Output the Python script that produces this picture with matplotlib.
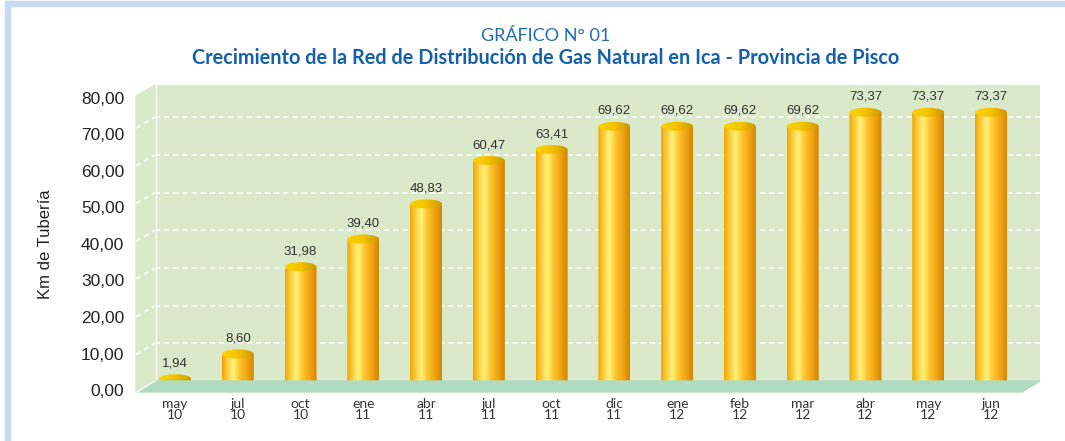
import numpy as np
import matplotlib
matplotlib.use("Agg")
import matplotlib.pyplot as plt
from matplotlib.patches import Ellipse, Rectangle, Polygon
from matplotlib.colors import LinearSegmentedColormap

# ---------------- data ----------------
months = ["may", "jul", "oct", "ene", "abr", "jul", "oct", "dic", "ene", "feb", "mar", "abr", "may", "jun"]
years = ["10", "10", "10", "11", "11", "11", "11", "11", "12", "12", "12", "12", "12", "12"]
values = [1.94, 8.60, 31.98, 39.40, 48.83, 60.47, 63.41, 69.62, 69.62, 69.62, 69.62, 73.37, 73.37, 73.37]
ytick_vals = [0, 10, 20, 30, 40, 50, 60, 70, 80]
ytick_labels = ["0,00", "10,00", "20,00", "30,00", "40,00", "50,00", "60,00", "70,00", "80,00"]
title1 = "GRÁFICO N° 01"
title2 = "Crecimiento de la Red de Distribución de Gas Natural en Ica - Provincia de Pisco"
ylabel = "Km de Tubería"

W, H = 1065, 441
fig = plt.figure(figsize=(W / 100, H / 100), dpi=100)
fig.patch.set_facecolor("white")


def fx(px):
    return px / W


def fy(py):
    return 1 - py / H


def add_axes_px(x0, y0, x1, y1, **kw):
    return fig.add_axes([fx(x0), fy(y1), fx(x1) - fx(x0), fy(y0) - fy(y1)], **kw)


# frame border (light blue)
border = "#c6dbf1"
fig.patches.append(Rectangle((fx(5), fy(6)), 1 - fx(5), fy(1) - fy(6), transform=fig.transFigure,
                             color=border, zorder=0))
fig.patches.append(Rectangle((fx(5), 0), fx(10) - fx(5), fy(1), transform=fig.transFigure,
                             color=border, zorder=0))

wall = "#d9e9c9"
floor = "#afdcc1"

# side wall
fig.patches.append(Polygon([(fx(136), fy(96)), (fx(155), fy(85)), (fx(155), fy(381)), (fx(136), fy(392))],
                           closed=True, transform=fig.transFigure, color=wall, zorder=0))
# floor
fig.patches.append(Polygon([(fx(137), fy(392)), (fx(155), fy(381)), (fx(1040), fy(381)), (fx(1022), fy(392))],
                           closed=True, transform=fig.transFigure, color=floor, zorder=0))

# back wall axes
axw = add_axes_px(155, 85, 1040, 381)
axw.set_facecolor(wall)
axw.set_ylim(0, (381 - 85) / 3.77)
axw.set_xlim(0, 1)
axw.set_yticks(ytick_vals[1:8])
axw.tick_params(left=False, bottom=False, labelleft=False, labelbottom=False)
axw.grid(axis="y", color="white", linestyle=(0, (3, 2.5)), linewidth=1.2)
for s in axw.spines.values():
    s.set_visible(False)
axw.axvline(0.0, color="white", linewidth=2)
# side wall dashed grid lines
for v in ytick_vals[1:8]:
    yb = 381 - v * 3.77
    fig.add_artist(plt.Line2D([fx(136), fx(155)], [fy(yb + 11), fy(yb)], transform=fig.transFigure,
                              color="white", linestyle=(0, (3, 2.5)), linewidth=1.2))
# edge between side wall and floor
fig.add_artist(plt.Line2D([fx(137), fx(155)], [fy(392), fy(381)], transform=fig.transFigure,
                          color="white", linewidth=1.0))

# tick label axes (front plane)
axt = add_axes_px(136, 98, 1022, 390)
axt.set_facecolor("none")
axt.set_ylim(0, 80)
axt.set_yticks(ytick_vals)
axt.set_yticklabels(ytick_labels, fontsize=12.5, color="#222222", family="Liberation Sans")
axt.tick_params(left=False, bottom=False, labelbottom=False, pad=5)
for s in axt.spines.values():
    s.set_visible(False)
axt.set_ylabel(ylabel, fontsize=12, color="#222222", family="Liberation Sans", labelpad=20)

# bar axes
base_px, scale = 386.0, 3.73
top_px, bot_px = 80, 400
axb = add_axes_px(155, top_px, 1040, bot_px)
axb.set_facecolor("none")
axb.patch.set_visible(False)
x0_px, dx_px = 175.0, (991 - 175) / 13
for s in axb.spines.values():
    s.set_visible(False)
axb.tick_params(left=False, bottom=False, labelleft=False, labelbottom=False)

body_cmap = LinearSegmentedColormap.from_list("body", [
    (0.0, "#f2a400"), (0.12, "#fbc02a"), (0.35, "#fff37a"), (0.55, "#fdc530"),
    (0.8, "#f0a010"), (1.0, "#cf8500")])
top_cmap = LinearSegmentedColormap.from_list("top", [
    (0.0, "#ffd400"), (0.5, "#f2c200"), (1.0, "#cf9400")])
grad = np.linspace(0, 1, 256).reshape(1, -1)

x = np.arange(len(values))
bw = 32 / dx_px
eh = 9 / scale  # ellipse height in data units
bars = axb.bar(x, values, width=bw, color="none", edgecolor="none", zorder=2)
for xi, v, b in zip(x, values, bars):
    xl, xr = xi - bw / 2, xi + bw / 2
    th = np.linspace(np.pi, 2 * np.pi, 40)
    pts = [(xl, v)] + [(xi + bw / 2 * np.cos(t), eh / 2 * np.sin(t)) for t in th] + [(xr, v)]
    body = Polygon(pts, closed=True, facecolor="none", edgecolor="none", transform=axb.transData)
    axb.add_patch(body)
    im = axb.imshow(grad, cmap=body_cmap, extent=[xl, xr, -eh, v + eh], aspect="auto",
                    interpolation="bilinear", zorder=3)
    im.set_clip_path(body)
    top = Ellipse((xi, v), bw, eh, facecolor="none", edgecolor="none", transform=axb.transData)
    axb.add_patch(top)
    im2 = axb.imshow(grad, cmap=top_cmap, extent=[xl, xr, v - eh, v + eh], aspect="auto",
                     interpolation="bilinear", zorder=4)
    im2.set_clip_path(top)
    axb.text(xi, v + eh / 2 + 1.3, f"{v:.2f}".replace(".", ","), ha="center", va="bottom",
             fontsize=9.5, color="#333333", family="Liberation Sans", zorder=5)
axb.set_xlim((155 - x0_px) / dx_px, (1040 - x0_px) / dx_px)
axb.set_ylim(-(bot_px - base_px) / scale, (base_px - top_px) / scale)

# x labels
for xi, m, yv in zip(x, months, years):
    px = x0_px + xi * dx_px
    fig.text(fx(px), fy(404), m, ha="center", va="center", fontsize=10, color="#333333", family="Lato")
    fig.text(fx(px), fy(415), yv, ha="center", va="center", fontsize=10, color="#333333", family="Lato")

# titles
fig.text(fx(546), fy(36), title1, ha="center", va="center", fontsize=13, color="#1f6db4", family="Lato")
fig.text(fx(546), fy(58), title2, ha="center", va="center", fontsize=14.3, color="#1560ad",
         family="Lato", fontweight="bold")

fig.savefig("out.png", dpi=100, facecolor="white")
